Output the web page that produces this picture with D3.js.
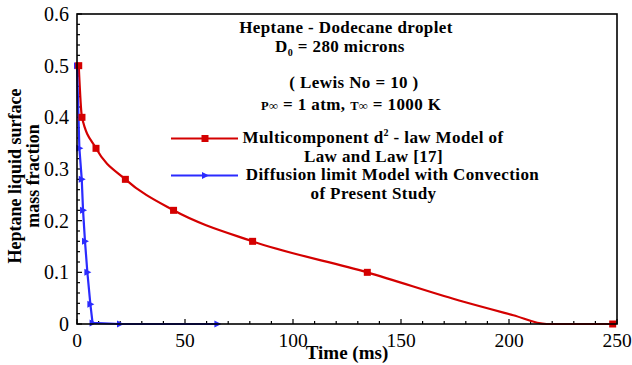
<!DOCTYPE html>
<html><head><meta charset="utf-8">
<script src="https://cdn.jsdelivr.net/npm/d3@7"></script>
<style>
body{margin:0;background:#fff;}
svg text{font-family:'Liberation Serif','Times New Roman',Times,'DejaVu Serif',serif;}
</style></head>
<body><svg id="c" width="632" height="365" font-family="'Liberation Serif', 'Times New Roman', serif"></svg>
<script>
// Data
const redT = [0.8, 2.3, 8.8, 22.4, 44.7, 81.3, 134.4, 179, 202, 217.4, 248];
const redY = [0.5, 0.4, 0.34, 0.28, 0.22, 0.16, 0.10, 0.043, 0.017, 0, 0];
const redMarker = [1, 1, 1, 1, 1, 1, 1, 0, 0, 0, 1];
const blueT = [0, 1.1, 2.2, 2.8, 3.7, 4.8, 6.2, 7.2, 19.9, 65];
const blueY = [0.5, 0.34, 0.28, 0.22, 0.16, 0.10, 0.038, 0.002, 0, 0];
const xTicks = [0, 50, 100, 150, 200, 250];
const xTickLabels = ["0", "50", "100", "150", "200", "250"];
const yTicks = [0, 0.1, 0.2, 0.3, 0.4, 0.5, 0.6];
const yTickLabels = ["0", "0.1", "0.2", "0.3", "0.4", "0.5", "0.6"];

const RED = "#d40000", BLUE = "#2b2bff";
const svg = d3.select("#c");
const x = d3.scaleLinear().domain([0, 250]).range([77, 617]);
const y = d3.scaleLinear().domain([0, 0.6]).range([324, 14]);

// minor ticks
const xMinor = d3.range(0, 251, 10);
const yMinor = d3.range(0, 0.6001, 0.02);
svg.append("g").selectAll("line").data(xMinor).join("line")
  .attr("x1", d => x(d)).attr("x2", d => x(d))
  .attr("y1", y(0)).attr("y2", d => y(0) - (xTicks.includes(Math.round(d)) ? 5 : 3))
  .attr("stroke", "#000").attr("stroke-width", 1.2);
svg.append("g").selectAll("line").data(yMinor).join("line")
  .attr("y1", d => y(d)).attr("y2", d => y(d))
  .attr("x1", x(0)).attr("x2", (d, i) => x(0) + (i % 5 === 0 ? 5 : 3))
  .attr("stroke", "#000").attr("stroke-width", 1.2);

// tick labels
svg.append("g").selectAll("text").data(xTicks).join("text")
  .attr("x", d => x(d)).attr("y", 347).attr("text-anchor", "middle")
  .attr("font-size", 19.5).text((d, i) => xTickLabels[i]);
svg.append("g").selectAll("text").data(yTicks).join("text")
  .attr("x", 69).attr("y", d => y(d)).attr("dy", "0.35em").attr("text-anchor", "end")
  .attr("font-size", 20).text((d, i) => yTickLabels[i]);

// curves
const redData = redT.map((t, i) => ({t, v: redY[i], m: redMarker[i]}));
const blueData = blueT.map((t, i) => ({t, v: blueY[i]}));
svg.append("path").datum(redData)
  .attr("d", d3.line().x(d => x(d.t)).y(d => y(d.v)).curve(d3.curveMonotoneX))
  .attr("fill", "none").attr("stroke", RED).attr("stroke-width", 2.2);
svg.append("path").datum(blueData)
  .attr("d", d3.line().x(d => x(d.t)).y(d => y(d.v)))
  .attr("fill", "none").attr("stroke", BLUE).attr("stroke-width", 2.2);

const tri = "M-3,-3.5 L4,0 L-3,3.5 Z";
svg.append("g").selectAll("path").data(blueData).join("path")
  .attr("d", tri).attr("transform", d => `translate(${x(d.t)},${y(d.v)})`).attr("fill", BLUE);
svg.append("g").selectAll("rect").data(redData.filter(d => d.m)).join("rect")
  .attr("x", d => x(d.t) - 3.5).attr("y", d => y(d.v) - 3.5).attr("width", 7).attr("height", 7)
  .attr("fill", RED);

// frame
svg.append("rect").attr("x", x(0)).attr("y", y(0.6)).attr("width", x(250) - x(0)).attr("height", y(0) - y(0.6))
  .attr("fill", "none").attr("stroke", "#000").attr("stroke-width", 1.6);

// axis titles
svg.append("text").attr("x", 347).attr("y", 359).attr("text-anchor", "middle")
  .attr("font-size", 19).attr("font-weight", "bold").text("Time (ms)");
const yt = svg.append("text").attr("transform", "translate(21,176) rotate(-90)")
  .attr("text-anchor", "middle").attr("font-size", 18).attr("font-weight", "bold");
yt.append("tspan").attr("x", 0).attr("y", 0).text("Heptane liquid surface");
yt.append("tspan").attr("x", 0).attr("y", 18).text("mass fraction");

// annotations
const B = (sel) => sel.attr("font-weight", "bold").attr("font-size", 17).attr("letter-spacing", 0.4);
B(svg.append("text")).attr("x", 346).attr("y", 33).attr("text-anchor", "middle").text("Heptane - Dodecane droplet");
const d0 = B(svg.append("text")).attr("x", 275).attr("y", 52);
d0.append("tspan").text("D");
d0.append("tspan").attr("font-size", 10).attr("dy", 4).text("0");
d0.append("tspan").attr("dy", -4).text(" = 280 microns");
B(svg.append("text")).attr("x", 354).attr("y", 88).attr("text-anchor", "middle").text("( Lewis No = 10 )");
const pt = B(svg.append("text")).attr("x", 261).attr("y", 110);
pt.append("tspan").attr("font-size", 12.5).text("P∞");
pt.append("tspan").text(" = 1 atm, ");
pt.append("tspan").attr("font-size", 12.5).text("T∞");
pt.append("tspan").text(" = 1000 K");

// legend
svg.append("line").attr("x1", 171).attr("x2", 238).attr("y1", 138.5).attr("y2", 138.5)
  .attr("stroke", RED).attr("stroke-width", 2.2);
svg.append("rect").attr("x", 201.5).attr("y", 135).attr("width", 7).attr("height", 7).attr("fill", RED);
svg.append("line").attr("x1", 171).attr("x2", 238).attr("y1", 175.5).attr("y2", 175.5)
  .attr("stroke", BLUE).attr("stroke-width", 2.2);
svg.append("path").attr("d", tri).attr("transform", "translate(205,175.5)").attr("fill", BLUE);

const l1 = B(svg.append("text")).attr("x", 373).attr("y", 142.5).attr("text-anchor", "middle");
l1.append("tspan").text("Multicomponent d");
l1.append("tspan").attr("font-size", 10).attr("dy", -7).text("2");
l1.append("tspan").attr("dy", 7).text(" - law Model of");
B(svg.append("text")).attr("x", 373.5).attr("y", 161.5).attr("text-anchor", "middle").text("Law and Law [17]");
B(svg.append("text")).attr("x", 392.5).attr("y", 179.5).attr("text-anchor", "middle").text("Diffusion limit Model with Convection");
B(svg.append("text")).attr("x", 373.5).attr("y", 198.5).attr("text-anchor", "middle").text("of Present Study");
</script></body></html>
